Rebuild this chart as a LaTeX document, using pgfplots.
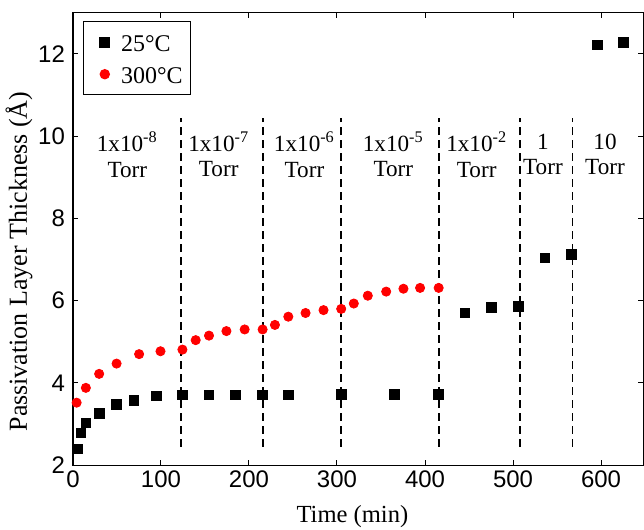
\documentclass[border=0pt]{standalone}
\usepackage{fontspec}
\setmainfont{Liberation Serif}
\newfontfamily\hel{Liberation Sans}
\usepackage{pgfplots}
\pgfplotsset{compat=1.18}

\begin{document}
\begin{tikzpicture}
\begin{axis}[
  scale only axis, width=285.5pt, height=226.5pt,
  xmin=0, xmax=648, ymin=2, ymax=13,
  xtick={0,100,...,600}, ytick={2,4,...,12},
  tick align=inside, major tick length=2.7pt,
  tick style={black, line width=0.5pt},
  axis line style={line width=0.7pt},
  tick label style={font=\fontsize{12}{13}\hel},
  xticklabel style={yshift=1pt},
  yticklabel style={xshift=-0.5pt},
  /pgf/number format/assume math mode=true,
  xlabel={Time (min)}, ylabel={Passivation Layer Thickness (\AA)},
  xlabel style={font=\fontsize{12.3}{13}\selectfont, at={(axis description cs:0.49,0)}, anchor=base, yshift=-28.65pt},
  ylabel style={font=\fontsize{13}{14}\selectfont, at={([xshift=-23pt]axis description cs:0,0.45)}, anchor=base},
  legend style={at={([xshift=5.15pt,yshift=-4.5pt]axis description cs:0,1)}, anchor=north west,
    draw=black, line width=0.6pt, outer sep=0pt,
    inner xsep=4pt, inner ysep=5.8pt, row sep=7pt, column sep=5.75pt,
    nodes={inner sep=0pt, text height=9pt, text depth=0pt},
    font=\fontsize{12}{13}\selectfont},
  legend cell align=left,
  legend image code/.code={\path (0pt,0pt); \draw[mark repeat=1,#1] plot coordinates {(6.5pt,0pt)};},
  clip=false,
]
\addplot[only marks, mark=square*, mark size=2.4pt, black] coordinates {
(4.9,2.40) (9.1,2.79) (14.7,3.03) (29.8,3.26) (49.6,3.48) (69.2,3.57) (95,3.68)
(124.4,3.71) (154.6,3.71) (184.9,3.71) (215.5,3.71) (244.7,3.71)
(304.8,3.72) (365.3,3.72) (415.5,3.72)
(445.5,5.70) (475.7,5.84) (506,5.86)
(536.2,7.04) (566.4,7.12)
(596,12.22) (625.4,12.28)};
\addlegendentry{25\textdegree C}
\addplot[only marks, mark=*, mark size=2.3pt, draw=red, fill=red] coordinates {
(4.2,3.52) (14.7,3.88) (29.8,4.22) (49.6,4.47) (75.2,4.70) (99.5,4.77)
(124.4,4.81) (139.5,5.04) (154.6,5.15) (174.4,5.26) (195.1,5.30) (215.5,5.30)
(229.5,5.41) (244.7,5.61) (264.3,5.70) (284.7,5.77) (304.8,5.80) (319.1,5.93)
(335,6.12) (355.9,6.22) (375.5,6.29) (394.4,6.31) (415.5,6.31)};
\addlegendentry{300\textdegree C}
\pgfplotsinvokeforeach{123,216,305,415.5,508,567.5}{
  \addplot[black, line width=0.9pt, dash pattern=on 4pt off 2.5pt, forget plot]
    coordinates {(#1,2.45) (#1,10.45)};
}
\begin{scope}[every node/.style={align=center, font=\fontsize{11.6}{12.8}\selectfont}]
\node at (axis cs:61.8,9.55) {1x10\textsuperscript{-8}\\Torr};
\node at (axis cs:165.6,9.55) {1x10\textsuperscript{-7}\\Torr};
\node at (axis cs:263,9.55) {1x10\textsuperscript{-6}\\Torr};
\node at (axis cs:364,9.55) {1x10\textsuperscript{-5}\\Torr};
\node at (axis cs:458.7,9.55) {1x10\textsuperscript{-2}\\Torr};
\node at (axis cs:534,9.55) {1\\Torr};
\node at (axis cs:604.5,9.55) {10\\Torr};
\end{scope}
\coordinate (ll) at (rel axis cs:0,0);
\coordinate (ur) at (rel axis cs:1,1);
\end{axis}
\pgfresetboundingbox
\path ([shift={(-36.5pt,-32.15pt)}]ll) rectangle ([shift={(0.35pt,6.35pt)}]ur);
\end{tikzpicture}
\end{document}
